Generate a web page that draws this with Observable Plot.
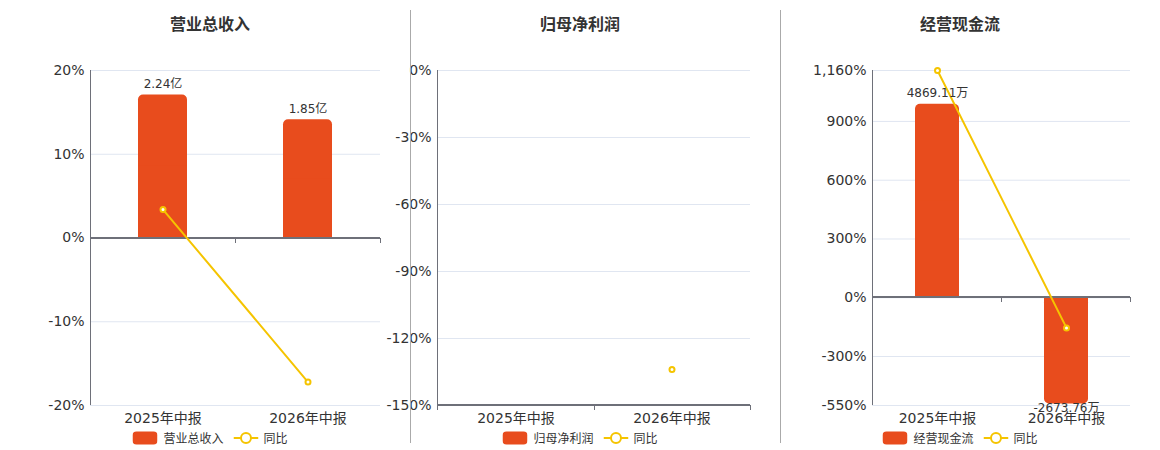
<!DOCTYPE html>
<html>
<head>
<meta charset="utf-8">
<script src="https://cdn.jsdelivr.net/npm/d3@7"></script>
<script src="https://cdn.jsdelivr.net/npm/@observablehq/plot@0.6"></script>
<style>
  body { margin: 0; background: #fff; font-family: "DejaVu Sans", "Noto Sans CJK SC", sans-serif; }
  #root { position: relative; width: 1160px; height: 450px; overflow: hidden; }
  .panel { position: absolute; top: 0; }
  .title { position: absolute; top: 11px; transform: translateX(-50%); font-weight: bold; font-size: 16px; color: #333; white-space: nowrap; font-family: "DejaVu Sans", "Noto Sans CJK SC", sans-serif; }
  .divider { position: absolute; top: 10px; height: 433px; width: 1px; background: #aaa; }
  .legend { position: absolute; top: 429px; transform: translateX(-50%); display: flex; align-items: center; font-size: 12px; color: #333; white-space: nowrap; }
  .legend svg { display: block; }
</style>
</head>
<body>
<div id="root"></div>
<script>
// ---- data ----
const periods = ["2025年中报", "2026年中报"];

const revenue = [2.24, 1.85];                 // 亿
const revenueLabels = ["2.24亿", "1.85亿"];
const revenueYoY = [3.4, -17.2];              // %
const revenueTicks = [-20, -10, 0, 10, 20];
const revenueBarAxis = [-2.623, 2.623];

const netProfit = [null, null];
const netProfitLabels = ["", ""];
const netProfitYoY = [null, -133.9];
const netProfitTicks = [-150, -120, -90, -60, -30, 0];
const netProfitBarAxis = [-150, 0];

const cashFlow = [4869.11, -2673.76];         // 万
const cashFlowLabels = ["4869.11万", "-2673.76万"];
const cashFlowYoY = [1160, -153.8];
const cashFlowTicks = [-550, -300, 0, 300, 600, 900, 1160];
const cashFlowBarAxis = [-2712, 5720];

const barColor = "#e84c1d";
const lineColor = "#f5c400";
const axisColor = "#6e7079";
const gridColor = "#e0e6f1";
const font = "'DejaVu Sans', 'Noto Sans CJK SC', sans-serif";

const panels = [
  {title: "营业总收入", name: "营业总收入", values: revenue, labels: revenueLabels, yoy: revenueYoY,
   ticks: revenueTicks, barAxis: revenueBarAxis, axisAt: 0,
   left: 0, width: 390, ml: 90, mr: 10, center: 210},
  {title: "归母净利润", name: "归母净利润", values: netProfit, labels: netProfitLabels, yoy: netProfitYoY,
   ticks: netProfitTicks, barAxis: netProfitBarAxis, axisAt: -150,
   left: 347, width: 413, ml: 90, mr: 10, center: 580},
  {title: "经营现金流", name: "经营现金流", values: cashFlow, labels: cashFlowLabels, yoy: cashFlowYoY,
   ticks: cashFlowTicks, barAxis: cashFlowBarAxis, axisAt: 0,
   left: 782, width: 378, ml: 90, mr: 30, center: 960}
];

const root = document.getElementById("root");
const locale = d3.formatLocale({decimal: ".", thousands: ",", grouping: [3], currency: ["", ""], minus: "-"});
const fmt = d => locale.format(",")(d) + "%";

for (const p of panels) {
  const yDomain = [d3.min(p.ticks), d3.max(p.ticks)];
  const barToPct = d3.scaleLinear().domain(p.barAxis).range(yDomain);
  const bars = periods.map((period, i) => ({
    period,
    v: p.values[i],
    y: p.values[i] == null ? null : barToPct(p.values[i]),
    label: p.labels[i]
  })).filter(d => d.v != null);
  bars.forEach(d => { d.half = d.y / 2; });
  const yoy = periods.map((period, i) => ({period, yoy: p.yoy[i]})).filter(d => d.yoy != null);

  const axisLines = (index, scales, values, dims) => {
    const g = d3.create("svg:g");
    const x0 = dims.marginLeft, x1 = dims.width - dims.marginRight;
    const top = dims.marginTop, bottom = dims.height - dims.marginBottom;
    const y0 = Math.round(scales.y(p.axisAt));
    g.append("line").attr("x1", x0 + 0.5).attr("x2", x0 + 0.5).attr("y1", top).attr("y2", bottom)
      .attr("stroke", axisColor).attr("stroke-width", 1);
    g.append("line").attr("x1", x0).attr("x2", x1).attr("y1", y0).attr("y2", y0)
      .attr("stroke", axisColor).attr("stroke-width", 2);
    const step = (x1 - x0) / periods.length;
    for (let i = 0; i <= periods.length; i++) {
      const x = Math.round(x0 + i * step) + 0.5;
      g.append("line").attr("x1", x).attr("x2", x).attr("y1", y0).attr("y2", y0 + 5)
        .attr("stroke", axisColor).attr("stroke-width", 1);
    }
    return g.node();
  };

  const chart = Plot.plot({
    width: p.width,
    height: 440,
    marginLeft: p.ml,
    marginRight: p.mr,
    marginTop: 70,
    marginBottom: 35,
    style: {fontFamily: font, fontSize: "14px", color: "#333", background: "transparent", overflow: "visible"},
    x: {type: "band", domain: periods, paddingInner: 0.66, paddingOuter: 0.33, axis: null},
    y: {domain: yDomain, axis: null},
    marks: [
      Plot.gridY(p.ticks, {stroke: gridColor, strokeOpacity: 1, strokeWidth: 1}),
      Plot.barY(bars, {x: "period", y1: 0, y2: "y", fill: barColor, rx: 5}),
      Plot.barY(bars, {x: "period", y1: 0, y2: "half", fill: barColor}),
      axisLines,
      Plot.line(yoy, {x: "period", y: "yoy", stroke: lineColor, strokeWidth: 2}),
      Plot.dot(yoy, {x: "period", y: "yoy", r: 2.5, stroke: lineColor, strokeWidth: 2, fill: "#fff"}),
      Plot.text(bars, {x: "period", y: "y", text: "label", fontSize: 12, fill: "#333",
        lineAnchor: "middle", filter: d => d.v >= 0, dy: -11}),
      Plot.text(bars, {x: "period", y: "y", text: "label", fontSize: 12, fill: "#333",
        lineAnchor: "middle", filter: d => d.v < 0, dy: 4}),
      Plot.axisY(p.ticks, {tickSize: 0, tickPadding: 6, tickFormat: fmt, fontSize: 14, fill: "#333", label: null}),
      Plot.axisX({tickSize: 0, tickPadding: 8, fontSize: 14, fill: "#333", label: null})
    ]
  });
  const wrap = document.createElement("div");
  wrap.className = "panel";
  wrap.style.left = p.left + "px";
  wrap.appendChild(chart);
  root.appendChild(wrap);

  const t = document.createElement("div");
  t.className = "title";
  t.style.left = p.center + "px";
  t.textContent = p.title;
  root.appendChild(t);

  const lg = document.createElement("div");
  lg.className = "legend";
  lg.style.left = p.center + "px";
  lg.innerHTML =
    `<svg width="25" height="14"><rect x="0" y="0.5" width="25" height="13" rx="4" fill="${barColor}"/></svg>` +
    `<span style="margin-left:6px">${p.name}</span>` +
    `<svg width="25" height="14" style="margin-left:10px"><line x1="0" x2="25" y1="7" y2="7" stroke="${lineColor}" stroke-width="2"/><circle cx="12.5" cy="7" r="5" fill="#fff" stroke="${lineColor}" stroke-width="2"/></svg>` +
    `<span style="margin-left:5px">同比</span>`;
  root.appendChild(lg);
}

for (const x of [410, 780]) {
  const d = document.createElement("div");
  d.className = "divider";
  d.style.left = x + "px";
  root.appendChild(d);
}
</script>
</body>
</html>
